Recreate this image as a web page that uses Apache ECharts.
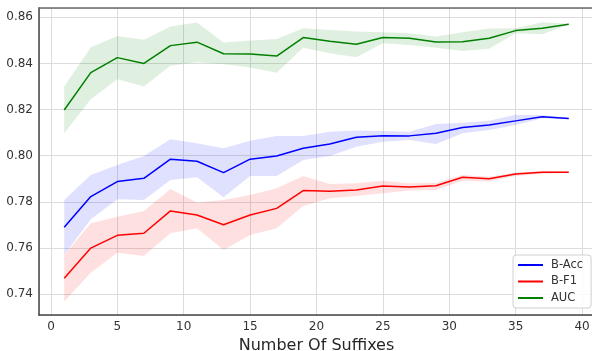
<!DOCTYPE html>
<html><head><meta charset="utf-8">
<script src="https://cdn.jsdelivr.net/npm/echarts@6/dist/echarts.min.js"></script>
<style>html,body{margin:0;padding:0;background:#fff}#c{width:592px;height:351px}</style>
</head><body><div id="c"></div>
<script>
const xs = [1,3,5,7,9,11,13,15,17,19,21,23,25,27,29,31,33,35,37,39];
const xTicks = [0,5,10,15,20,25,30,35,40];
const yTicks = [0.74,0.76,0.78,0.80,0.82,0.84,0.86];

const accMean = [0.769,0.7823,0.7888,0.7902,0.7985,0.7976,0.7927,0.7985,0.7999,0.8032,0.8051,0.808,0.8087,0.8086,0.8097,0.8122,0.8133,0.8151,0.8169,0.8161];
const accLow  = [0.757,0.7725,0.7811,0.7808,0.7895,0.7907,0.782,0.7912,0.7912,0.7982,0.7999,0.8039,0.8061,0.8068,0.8051,0.8097,0.8112,0.8133,0.8162,0.8158];
const accHigh = [0.7808,0.7917,0.796,0.7999,0.8071,0.8054,0.8032,0.8065,0.8086,0.8086,0.8104,0.8109,0.8107,0.8104,0.8138,0.8143,0.8152,0.8177,0.8175,0.8164];

const f1Mean = [0.7469,0.760,0.7655,0.7664,0.7761,0.7743,0.7701,0.7743,0.7772,0.7849,0.7846,0.7852,0.7869,0.7865,0.787,0.7907,0.790,0.7921,0.7928,0.7928];
const f1Low  = [0.7368,0.7493,0.758,0.7566,0.7664,0.7686,0.7592,0.7657,0.7686,0.7782,0.7816,0.7826,0.7837,0.7849,0.7852,0.7892,0.7888,0.7912,0.7922,0.7925];
const f1High = [0.757,0.7708,0.7736,0.7761,0.7856,0.7797,0.7808,0.783,0.7859,0.7912,0.7878,0.7881,0.7892,0.7881,0.7883,0.7917,0.7909,0.7927,0.7934,0.7931];

const aucMean = [0.8198,0.836,0.8425,0.840,0.8477,0.8492,0.8442,0.8441,0.8432,0.8512,0.8496,0.8483,0.8512,0.8509,0.8493,0.8494,0.8509,0.8542,0.8552,0.857];
const aucLow  = [0.8097,0.8245,0.8331,0.830,0.839,0.8405,0.8396,0.8382,0.8359,0.8468,0.8444,0.8427,0.8487,0.848,0.8468,0.8454,0.8463,0.8531,0.8526,0.8568];
const aucHigh = [0.830,0.847,0.8519,0.8502,0.856,0.8577,0.849,0.8499,0.8506,0.8552,0.8545,0.8538,0.8535,0.8531,0.8516,0.8535,0.8551,0.8552,0.8578,0.8572];

const names = ['B-Acc','B-F1','AUC'];
const colors = ['#0000ff','#ff0000','#008000'];
const bandColors = ['rgba(0,0,255,0.12)','rgba(255,0,0,0.12)','rgba(0,128,0,0.12)'];

function band(name, low, high, fill){
  return {
    type:'custom', name: name+' band', z:1, silent:true,
    encode:{x:0,y:[1,2]},
    data: xs.map((x,i)=>[x, low[i], high[i]]),
    renderItem: function(params, api){
      if (params.dataIndex !== 0) return null;
      const pts = [];
      for (let i=0;i<xs.length;i++) pts.push(api.coord([xs[i], high[i]]));
      for (let i=xs.length-1;i>=0;i--) pts.push(api.coord([xs[i], low[i]]));
      return {type:'polygon', shape:{points:pts}, style:{fill:fill, stroke:null}};
    }
  };
}
function line(name, mean, color){
  return {type:'line', name:name, z:3, data: xs.map((x,i)=>[x, mean[i]]),
    symbol:'none', lineStyle:{color:color,width:1.5}, itemStyle:{color:color}};
}
const isTick = (v, arr) => arr.some(t => Math.abs(t - v) < 1e-6);
const font = 'DejaVu Sans';
const chart = echarts.init(document.getElementById('c'), null, {renderer:'canvas'});
chart.setOption({
  animation:false,
  backgroundColor:'#ffffff',
  grid:{left:39, top:8, width:555, height:307, containLabel:false, outerBoundsMode:'none'},
  xAxis:[{
    type:'value', min:-0.9, max:40.9, splitNumber:8,
    name:'Number Of Suffixes', nameLocation:'middle', nameGap:17,
    nameTextStyle:{fontFamily:font, fontSize:16, color:'#262626'},
    axisLine:{show:true, onZero:false, lineStyle:{color:'#444', width:1.5}},
    axisTick:{show:false},
    axisLabel:{fontFamily:font, fontSize:12, color:'#333', margin:6,
      showMinLabel:true, showMaxLabel:true,
      formatter: v => isTick(v, xTicks) ? String(Math.round(v)) : ''},
    splitLine:{show:true, lineStyle:{color:'#dcdcdc', width:1}}
  },{
    type:'value', position:'top', min:-0.9, max:40.9,
    axisLine:{show:true, lineStyle:{color:'#6a6a6a', width:1.5}},
    axisTick:{show:false}, axisLabel:{show:false}, splitLine:{show:false}
  }],
  yAxis:{
    type:'value', min:0.731, max:0.864, splitNumber:6,
    axisLine:{show:true, onZero:false, lineStyle:{color:'#444', width:1.5}},
    axisTick:{show:false},
    axisLabel:{fontFamily:font, fontSize:12, color:'#333', margin:6,
      formatter: v => isTick(v, yTicks) ? v.toFixed(2) : ''},
    splitLine:{show:true, lineStyle:{color:'#dcdcdc', width:1}}
  },
  legend:{
    data: names.map(n=>({name:n, icon:'rect'})),
    orient:'vertical', left:513, top:255,
    itemWidth:25, itemHeight:2, itemGap:2.5,
    padding:[3,8,3,5],
    backgroundColor:'rgba(255,255,255,0.85)', borderColor:'#d0d0d0', borderWidth:1, borderRadius:3,
    textStyle:{fontFamily:font, fontSize:11.5, color:'#333', lineHeight:14, padding:[0,0,0,3]}
  },
  series:[
    band('AUC', aucLow, aucHigh, bandColors[2]),
    band('B-Acc', accLow, accHigh, bandColors[0]),
    band('B-F1', f1Low, f1High, bandColors[1]),
    line('B-Acc', accMean, colors[0]),
    line('B-F1', f1Mean, colors[1]),
    line('AUC', aucMean, colors[2])
  ]
});
</script></body></html>
